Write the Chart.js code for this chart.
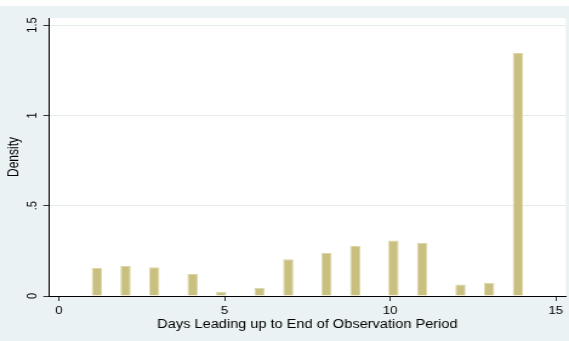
<!DOCTYPE html>
<html>
<head>
<meta charset="utf-8">
<title>Density of days leading up to end of observation period</title>
<script src="https://cdn.jsdelivr.net/npm/chart.js@4/dist/chart.umd.min.js"></script>
<style>
  html, body { margin: 0; padding: 0; background: #ffffff; overflow: hidden; }
  #wrap { width: 469px; height: 341px; transform: scaleX(1.21322); transform-origin: 0 0; }
  canvas { display: block; }
</style>
</head>
<body>
<div id="wrap"><canvas id="hist" width="469" height="341"></canvas></div>
<script>
// Observed days and their histogram density
const days = [1, 2, 3, 4, 5, 6, 7, 8, 9, 10, 11, 12, 13, 14];
const density = [0.155, 0.166, 0.159, 0.122, 0.024, 0.046, 0.203, 0.238, 0.277, 0.307, 0.294, 0.063, 0.074, 1.345];

// Histogram binning over the observed range
const binLow = 1;
const binHigh = 14;
const binCount = 45;

// Axis ticks
const xTickValues = [0, 5, 10, 15];
const yTickValues = [0, 0.5, 1, 1.5];
const yTickLabels = ['0', '.5', '1', '1.5'];

const binWidth = (binHigh - binLow) / binCount;
function binCenter(d) {
  const idx = Math.min(Math.floor((d - binLow) / binWidth + 1e-9), binCount - 1);
  return binLow + (idx + 0.5) * binWidth;
}
const points = days.map((d, i) => ({ x: binCenter(d), y: density[i] }));

const FONT = "'Liberation Sans', Arial, Helvetica, sans-serif";

// Graph region (light bluish gray) with a white plot region
const backdrop = {
  id: 'backdrop',
  beforeDraw(chart) {
    const { ctx, width, height, chartArea: a } = chart;
    ctx.save();
    ctx.fillStyle = '#ffffff';
    ctx.fillRect(0, 0, width, height);
    ctx.fillStyle = '#eaf2f3';
    ctx.fillRect(0, 6, width, height - 6);
    ctx.fillStyle = '#ffffff';
    ctx.fillRect(a.left, a.top, a.right - a.left, a.bottom - a.top);
    ctx.restore();
  }
};

new Chart(document.getElementById('hist'), {
  type: 'bar',
  data: {
    datasets: [{
      data: points,
      backgroundColor: '#c9c07f',
      borderColor: '#dcd6a6',
      borderWidth: 1,
      borderSkipped: 'start',
      barPercentage: 1,
      categoryPercentage: 0.36
    }]
  },
  options: {
    responsive: false,
    animation: false,
    devicePixelRatio: 1,
    layout: { padding: { left: 0, right: 2.7, top: 18, bottom: 0 } },
    plugins: { legend: { display: false }, tooltip: { enabled: false } },
    scales: {
      x: {
        type: 'linear',
        min: -0.3,
        max: 15.3,
        offset: false,
        z: 1,
        afterBuildTicks: s => { s.ticks = xTickValues.map(v => ({ value: v })); },
        afterFit: s => { s.height = 45; },
        grid: {
          display: true, offset: false, drawOnChartArea: false, drawTicks: true,
          tickLength: 5, tickColor: '#333333', tickWidth: 1
        },
        border: { display: true, color: '#000000', width: 1 },
        ticks: {
          autoSkip: false, maxRotation: 0, minRotation: 0, padding: 3,
          color: '#000000', font: { family: FONT, size: 11 },
          callback: v => String(v)
        },
        title: {
          display: true,
          text: 'Days Leading up to End of Observation Period',
          color: '#000000',
          font: { family: FONT, size: 12 },
          padding: { top: 0, bottom: 9.6 }
        }
      },
      y: {
        type: 'linear',
        min: 0,
        max: 1.539,
        afterBuildTicks: s => { s.ticks = yTickValues.map(v => ({ value: v })); },
        afterFit: s => { s.width = 40.4; },
        grid: {
          display: true,
          offset: false,
          drawOnChartArea: true,
          drawTicks: true,
          tickLength: 4.7,
          tickColor: '#333333',
          lineWidth: 1,
          color: c => (c.tick && c.tick.value === 0) ? 'rgba(0,0,0,0)' : '#e3ebee'
        },
        border: { display: true, color: '#000000', width: 1 },
        ticks: {
          autoSkip: false, minRotation: 90, maxRotation: 90, crossAlign: 'center', padding: 1.0,
          color: '#000000', font: { family: FONT, size: 11 },
          callback: v => {
            const i = yTickValues.indexOf(v);
            return i >= 0 ? yTickLabels[i] : '';
          }
        },
        title: {
          display: true,
          text: 'Density',
          color: '#000000',
          font: { family: FONT, size: 12 },
          padding: { top: 4.6, bottom: 0 }
        }
      }
    }
  },
  plugins: [backdrop]
});
</script>
</body>
</html>
